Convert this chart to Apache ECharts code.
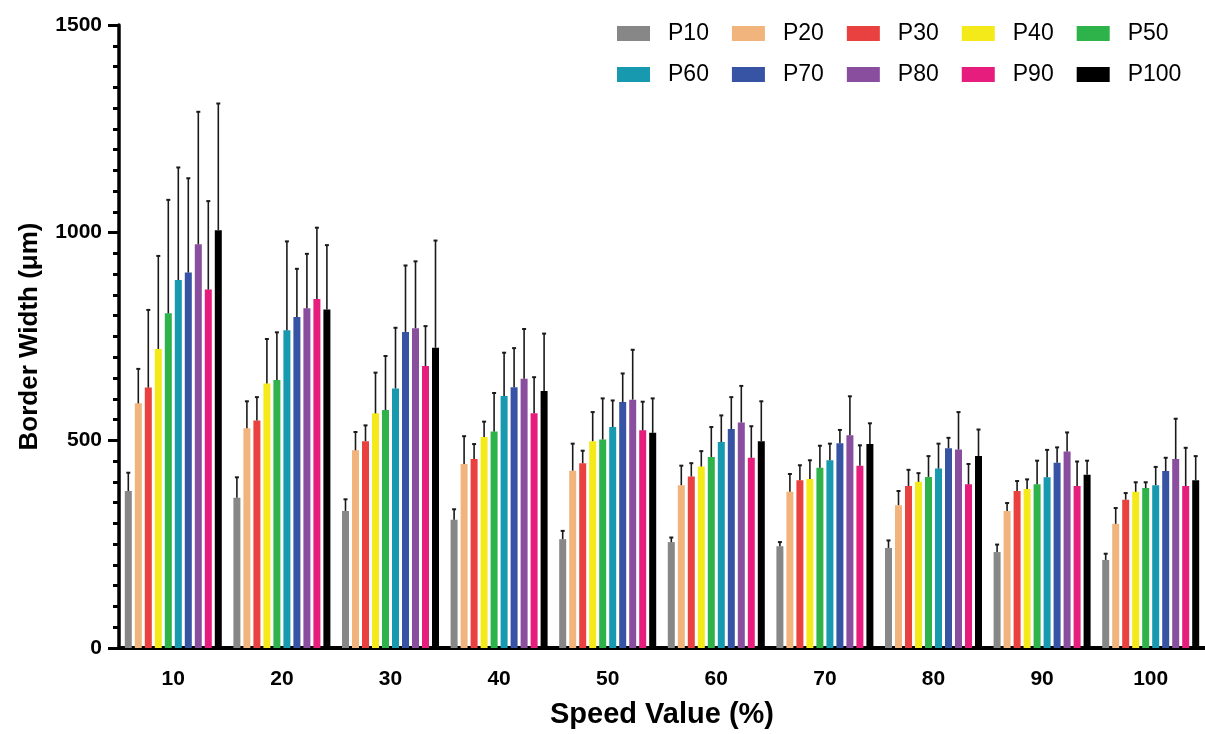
<!DOCTYPE html>
<html>
<head>
<meta charset="utf-8">
<script src="https://cdn.jsdelivr.net/npm/echarts@6/dist/echarts.min.js"></script>
<style>
html,body{margin:0;padding:0;background:#fff;}
#chart{width:1205px;height:734px;}
</style>
</head>
<body>
<div id="chart"></div>
<script>
const categories = ['10','20','30','40','50','60','70','80','90','100'];
const seriesNames = ['P10','P20','P30','P40','P50','P60','P70','P80','P90','P100'];
const yTicks = [0, 500, 1000, 1500];

const P10  = [378, 362, 330, 309, 262, 255, 245, 241, 231, 212];
const P20  = [589, 529, 476, 443, 427, 392, 376, 344, 330, 299];
const P30  = [627, 548, 498, 455, 445, 413, 404, 390, 378, 357];
const P40  = [720, 637, 565, 508, 498, 437, 407, 400, 383, 376];
const P50  = [806, 645, 573, 521, 502, 460, 434, 412, 394, 385];
const P60  = [886, 765, 625, 607, 532, 496, 452, 432, 411, 392];
const P70  = [904, 797, 761, 628, 592, 527, 493, 481, 446, 426];
const P80  = [972, 818, 770, 648, 598, 543, 512, 478, 473, 455];
const P90  = [863, 840, 679, 565, 524, 458, 439, 394, 390, 390];
const P100 = [1006, 815, 723, 619, 518, 498, 491, 462, 417, 404];

const P10err  = [44, 49, 28, 25, 20, 11, 10, 18, 18, 15];
const P20err  = [83, 65, 44, 67, 65, 47, 43, 34, 19, 38];
const P30err  = [187, 56, 38, 36, 30, 32, 36, 39, 24, 16];
const P40err  = [224, 107, 98, 37, 70, 37, 45, 21, 23, 23];
const P50err  = [273, 115, 130, 93, 99, 72, 53, 50, 57, 14];
const P60err  = [271, 214, 146, 104, 64, 64, 40, 60, 66, 44];
const P70err  = [227, 116, 160, 94, 69, 77, 32, 25, 37, 32];
const P80err  = [319, 131, 161, 120, 120, 88, 94, 90, 46, 97];
const P90err  = [213, 172, 96, 87, 69, 76, 49, 49, 59, 92];
const P100err = [305, 155, 258, 138, 83, 96, 50, 64, 34, 58];

const values = [P10, P20, P30, P40, P50, P60, P70, P80, P90, P100];
const errors = [P10err, P20err, P30err, P40err, P50err, P60err, P70err, P80err, P90err, P100err];
const colors = ['#878787','#F0B47C','#E8413F','#F4EA1A','#2DB34A','#1799B0','#3753A4','#8A4E9E','#E71D7E','#000000'];

const BAR_W = 7, BAR_GAP = 3;
const nS = seriesNames.length;
const FONT = 'Liberation Sans, Arial, Helvetica, sans-serif';

const series = [];
seriesNames.forEach((name, i) => {
  series.push({
    name: name,
    type: 'bar',
    barWidth: BAR_W,
    barGap: (BAR_GAP / BAR_W * 100) + '%',
    itemStyle: { color: colors[i] },
    data: values[i],
    z: 2
  });
});
seriesNames.forEach((name, i) => {
  const offset = (i - (nS - 1) / 2) * (BAR_W + BAR_GAP);
  series.push({
    name: 'err-' + name,
    type: 'custom',
    z: 3,
    silent: true,
    data: values[i].map((v, k) => [k, v, errors[i][k]]),
    renderItem: function (params, api) {
      const c = api.value(0), v = api.value(1), e = api.value(2);
      const p0 = api.coord([c, v]);
      const p1 = api.coord([c, v + e]);
      const x = p0[0] + offset;
      return {
        type: 'group',
        children: [
          { type: 'line', shape: { x1: x, y1: p0[1], x2: x, y2: p1[1] }, style: { stroke: '#1a1a1a', lineWidth: 1.6 } },
          { type: 'line', shape: { x1: x - 2, y1: p1[1], x2: x + 2, y2: p1[1] }, style: { stroke: '#1a1a1a', lineWidth: 2 } }
        ]
      };
    }
  });
});

const legendCommon = {
  icon: 'rect',
  itemWidth: 33,
  itemHeight: 15,
  itemGap: 23,
  left: 612,
  orient: 'horizontal',
  textStyle: { fontFamily: FONT, fontSize: 23, color: '#000', padding: [0, 0, 0, 13], lineHeight: 22 }
};

const option = {
  backgroundColor: '#fff',
  animation: false,
  legend: [
    Object.assign({}, legendCommon, { top: 17, data: seriesNames.slice(0, 5) }),
    Object.assign({}, legendCommon, { top: 58, data: seriesNames.slice(5) })
  ],
  grid: { left: 119, right: 0, top: 25, bottom: 86, containLabel: false },
  xAxis: {
    type: 'category',
    data: categories,
    name: 'Speed Value (%)',
    nameLocation: 'middle',
    nameGap: 52,
    nameTextStyle: { fontFamily: FONT, fontSize: 29, fontWeight: 'bold', color: '#000' },
    axisLine: { lineStyle: { color: '#000', width: 4 } },
    axisTick: { alignWithLabel: true, length: 12, lineStyle: { color: '#000', width: 4 } },
    axisLabel: { fontFamily: FONT, fontSize: 21, fontWeight: 'bold', color: '#000', margin: 21 },
    splitLine: { show: false }
  },
  yAxis: {
    type: 'value',
    min: yTicks[0],
    max: yTicks[yTicks.length - 1],
    interval: 500,
    name: 'Border Width (μm)',
    nameLocation: 'middle',
    nameGap: 76,
    nameTextStyle: { fontFamily: FONT, fontSize: 26, fontWeight: 'bold', color: '#000' },
    axisLine: { show: true, lineStyle: { color: '#000', width: 3.5 } },
    axisTick: { show: true, length: 11, lineStyle: { color: '#000', width: 3 } },
    minorTick: { show: true, splitNumber: 10, length: 6, lineStyle: { color: '#000', width: 3 } },
    axisLabel: { fontFamily: FONT, fontSize: 21, fontWeight: 'bold', color: '#000', margin: 17, formatter: function (v) { return String(v); } },
    splitLine: { show: false },
    minorSplitLine: { show: false }
  },
  series: series
};

const chart = echarts.init(document.getElementById('chart'), null, { renderer: 'canvas' });
chart.setOption(option);
</script>
</body>
</html>
